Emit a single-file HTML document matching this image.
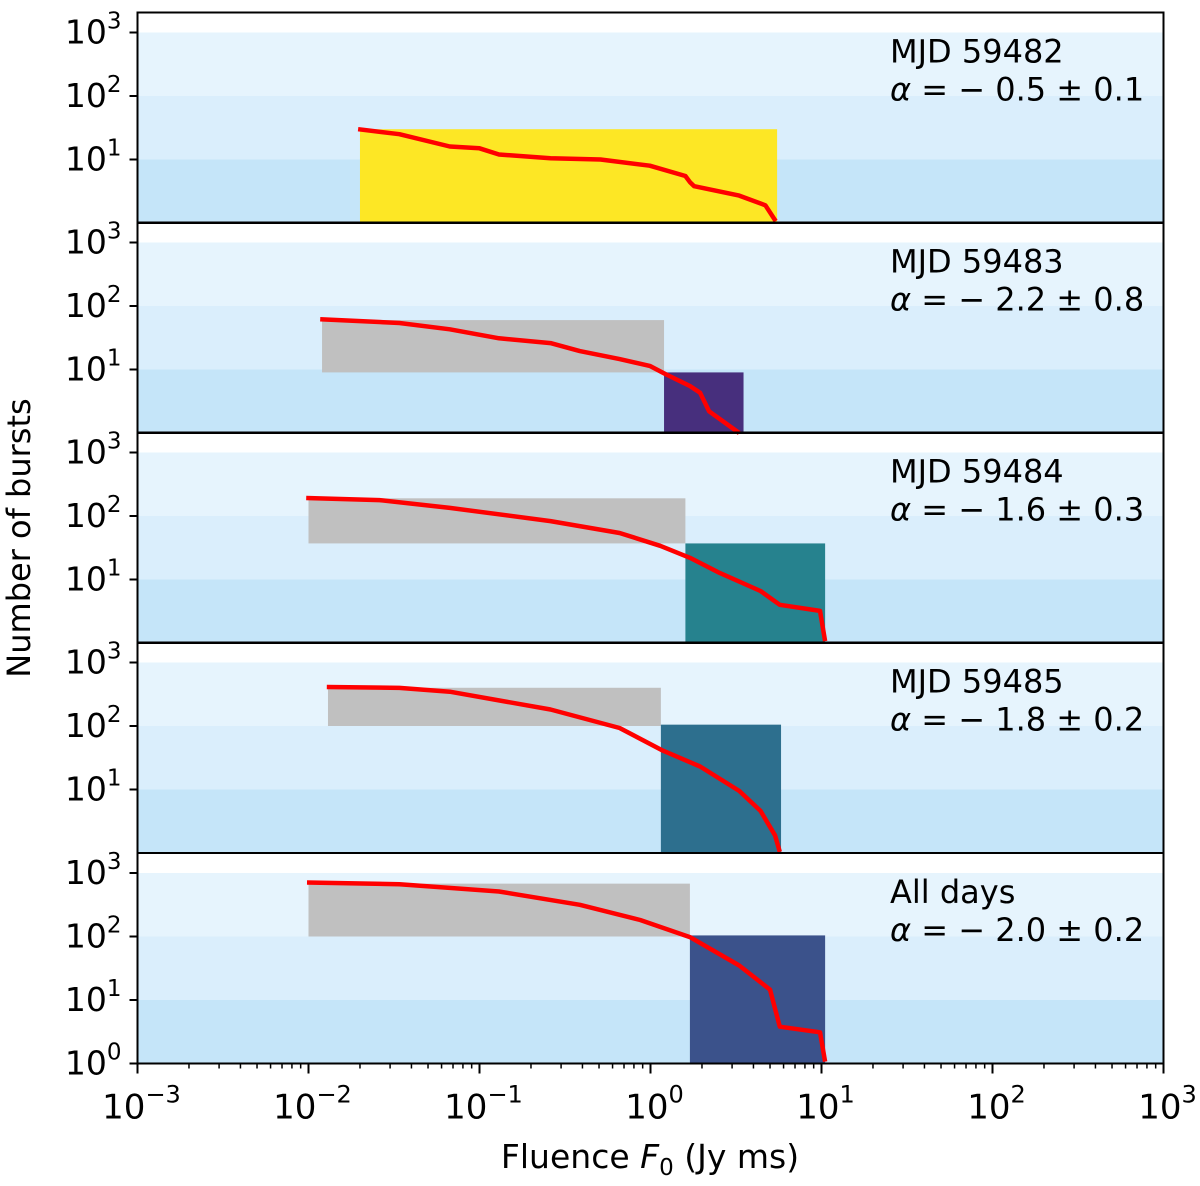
<!DOCTYPE html>
<html><head><meta charset="utf-8"><style>
html,body{margin:0;padding:0;background:#fff}
svg{display:block;font-family:"DejaVu Sans","Liberation Sans",sans-serif}
</style></head><body>
<svg id="chart" width="1200" height="1186" viewBox="0 0 1200 1186" xmlns="http://www.w3.org/2000/svg"></svg>
<script>
// ---- data ----
const panelLabels = ["MJD 59482","MJD 59483","MJD 59484","MJD 59485","All days"];
const alphaValues = ["\u2212 0.5 \u00b1 0.1","\u2212 2.2 \u00b1 0.8","\u2212 1.6 \u00b1 0.3","\u2212 1.8 \u00b1 0.2","\u2212 2.0 \u00b1 0.2"];
const curveF0 = [0.0195,0.034,0.067,0.10,0.13,0.26,0.51,0.99,1.6,1.7,1.8,3.3,4.7,5.4];
const curveN0 = [30,25,16,15,12,10.5,10,8,5.5,4.4,3.8,2.7,1.9,1.07];
const curveF1 = [0.0117,0.034,0.067,0.13,0.26,0.386,0.66,0.99,1.22,1.7,1.95,2.2,3.3];
const curveN1 = [62,54,43,31,26,19.5,14.6,11.4,8.5,5.5,4.3,2.2,1];
const curveF2 = [0.0097,0.026,0.067,0.26,0.66,1.14,1.7,2.55,4.4,5.7,9.8,10.5];
const curveN2 = [192,178,134,83,54,34,22,12.6,6.6,4.0,3.2,1.07];
const curveF3 = [0.0128,0.034,0.067,0.26,0.66,1.18,1.95,3.3,4.4,5.35,5.7];
const curveN3 = [411,398,347,182,93,41,23,9.5,4.6,1.9,1.04];
const curveF4 = [0.0098,0.034,0.13,0.386,0.87,1.7,3.3,5.0,5.7,9.8,10.5];
const curveN4 = [708,667,511,316,182,98,35,14.6,3.8,3.1,1.07];
const boxX0 = [[0.02,5.5],[0.012,1.2],[0.01,1.6],[0.013,1.15],[0.01,1.7]];
const boxY0 = [[1,30],[9,60],[37,190],[100,400],[100,680]];
const boxC0 = ["#fde725","#c0c0c0","#c0c0c0","#c0c0c0","#c0c0c0"];
const boxX1 = [null,[1.2,3.5],[1.6,10.5],[1.15,5.8],[1.7,10.5]];
const boxY1 = [null,[1,9],[1,37],[1,105],[1,104]];
const boxC1 = [null,"#472f7d","#26828e","#2d6f8e","#3b528b"];
const xTicks = [-3,-2,-1,0,1,2,3];
const yTicks = [0,1,2,3];

// ---- geometry ----
const L=137.5,R=1163.5,DEC=171;
const tops=[12.5,222.5,432.5,642.5,853];
const PH=210.5, YDEC=63.5;
const NS="http://www.w3.org/2000/svg";
const svg=document.getElementById('chart');
function X(v){return L+(Math.log10(v)+3)*DEC;}
function Y(p,v){return tops[p]+PH-Math.log10(v)*YDEC;}
function mk(tag,attrs,parent){const e=document.createElementNS(NS,tag);for(const k in attrs)e.setAttribute(k,attrs[k]);(parent||svg).appendChild(e);return e;}
const curvesF=[curveF0,curveF1,curveF2,curveF3,curveF4];
const curvesN=[curveN0,curveN1,curveN2,curveN3,curveN4];

for(let p=0;p<5;p++){
  const g=mk('g',{});
  
  
  const bands=[[0,1,"#c5e5f9"],[1,2,"#daeefc"],[2,3,"#e6f4fd"]];
  bands.forEach((b,i)=>{
    const r=mk('rect',{x:L,y:Y(p,Math.pow(10,b[1])),width:R-L,height:YDEC,fill:b[2]},g);
    
    
  });
  const b0=mk('rect',{x:X(boxX0[p][0]),y:Y(p,boxY0[p][1]),width:X(boxX0[p][1])-X(boxX0[p][0]),height:Y(p,boxY0[p][0])-Y(p,boxY0[p][1]),fill:boxC0[p]},g);
  
  
  if(boxX1[p]){
    const b1=mk('rect',{x:X(boxX1[p][0]),y:Y(p,boxY1[p][1]),width:X(boxX1[p][1])-X(boxX1[p][0]),height:Y(p,boxY1[p][0])-Y(p,boxY1[p][1]),fill:boxC1[p]},g);
    
    
  }
  const pts=curvesF[p].map((f,i)=>X(f).toFixed(1)+','+Y(p,curvesN[p][i]).toFixed(1)).join(' ');
  const pl=mk('polyline',{points:pts,fill:'none',stroke:'#ff0000','stroke-width':4.5,'stroke-linejoin':'round'},g);
  
  
  const fr=mk('rect',{x:L,y:tops[p],width:R-L,height:PH,fill:'none',stroke:'#000','stroke-width':2},g);
  
  
  yTicks.forEach(t=>{
    if(t===0&&p<4)return;
    const yy=Y(p,Math.pow(10,t));
    mk('line',{x1:L-8,x2:L,y1:yy,y2:yy,stroke:'#000','stroke-width':2},g);
    const tx=mk('text',{x:L-16,y:yy+11,'text-anchor':'end','font-size':33,fill:'#000'},g);
    
    
    tx.innerHTML='10<tspan dy="-15" font-size="23">'+t+'</tspan>';
  });
  const t1=mk('text',{x:890,y:tops[p]+50,'font-size':32,fill:'#000'},g);
  
  
  t1.textContent=panelLabels[p];
  const t2=mk('text',{x:890,y:tops[p]+88,'font-size':32,fill:'#000'},g);
  
  
  t2.innerHTML='<tspan font-style="italic">\u03b1</tspan> = '+alphaValues[p];
}
// x axis
const bot=tops[4]+PH;
xTicks.forEach(t=>{
  const xx=L+(t+3)*DEC;
  mk('line',{x1:xx,x2:xx,y1:bot,y2:bot+10,stroke:'#000','stroke-width':2});
  const tx=mk('text',{x:xx+4,y:bot+55,'text-anchor':'middle','font-size':34,fill:'#000'});
  
  
  tx.innerHTML='10<tspan dy="-16" font-size="24">'+(t<0?'\u2212'+(-t):t)+'</tspan>';
  if(t<3)for(let m=2;m<10;m++){
    const mx=xx+Math.log10(m)*DEC;
    mk('line',{x1:mx,x2:mx,y1:bot,y2:bot+5,stroke:'#000','stroke-width':1.5});
  }
});
const xl=mk('text',{x:650,y:1168,'text-anchor':'middle','font-size':33,fill:'#000'});


xl.innerHTML='Fluence <tspan font-style="italic">F</tspan><tspan font-size="23" dy="7">0</tspan><tspan dy="-7"> (Jy ms)</tspan>';
const yl=mk('text',{x:0,y:0,'text-anchor':'middle','font-size':32,fill:'#000',transform:'translate(30,538) rotate(-90)'});


yl.textContent='Number of bursts';
</script>
</body></html>
